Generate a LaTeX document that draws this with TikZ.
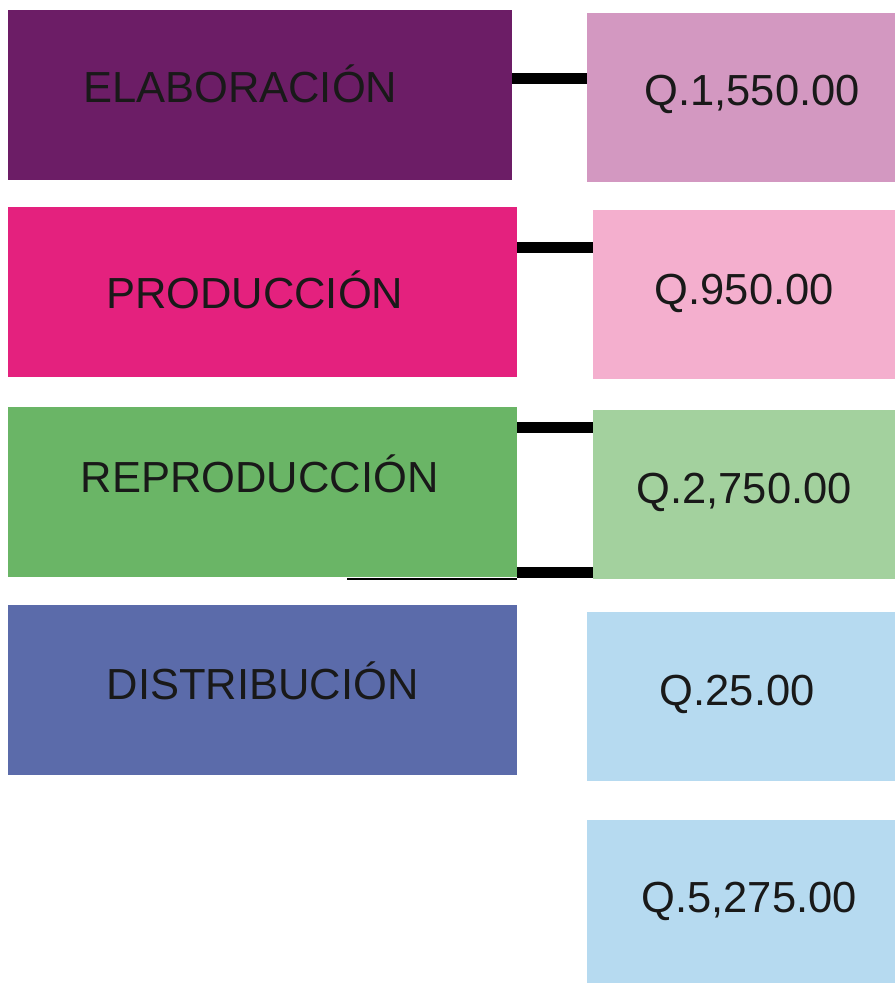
\documentclass[tikz,border=0pt]{standalone}
\usepackage{fontspec}
\setmainfont{Liberation Sans}
\definecolor{c1}{HTML}{6C1D66}
\definecolor{c1r}{HTML}{D398C1}
\definecolor{c2}{HTML}{E4217E}
\definecolor{c2r}{HTML}{F4AFCE}
\definecolor{c3}{HTML}{6AB566}
\definecolor{c3r}{HTML}{A3D19E}
\definecolor{c4}{HTML}{5B6BAA}
\definecolor{c4r}{HTML}{B6DAF0}
\newcommand{\upby}[2]{\raisebox{#1}[\height][\depth]{#2}}
\begin{document}
\begin{tikzpicture}[x=1pt,y=-1pt,
  lbox/.style={rectangle,inner sep=0pt,anchor=north west,minimum width=509pt,minimum height=170pt,text=black!90,font=\fontsize{43.5}{50}\selectfont},
  rbox/.style={rectangle,inner sep=0pt,anchor=north west,minimum width=308pt,minimum height=169pt,text=black!90,font=\fontsize{43.5}{50}\selectfont},
  link/.style={line width=11pt,black}]
\useasboundingbox (0,0) rectangle (895,983);
\fill[white] (0,0) rectangle (895,983);
\node[lbox,fill=c1,minimum width=504pt] (a1) at (8,10) {\upby{11pt}{\hspace*{-40pt}ELABORACIÓN}};
\node[lbox,fill=c2] (a2) at (8,207) {\upby{2pt}{\hspace*{-16pt}PRODUCCIÓN}};
\node[lbox,fill=c3] (a3) at (8,407) {\upby{18pt}{\hspace*{-6pt}REPRODUCCIÓN}};
\node[lbox,fill=c4] (a4) at (8,605) {\upby{9pt}{DISTRIBUCIÓN}};
\node[rbox,fill=c1r] (b1) at (587,13) {\upby{3pt}{\hspace*{22pt}Q.1,550.00}};
\node[rbox,fill=c2r,minimum width=302pt] (b2) at (593,210) {\upby{1.5pt}{Q.950.00}};
\node[rbox,fill=c3r,minimum width=302pt] (b3) at (593,410) {\upby{2pt}{Q.2,750.00}};
\node[rbox,fill=c4r] (b4) at (587,612) {\upby{2pt}{\hspace*{-8pt}Q.25.00}};
\node[rbox,fill=c4r,minimum height=163pt] (b5) at (587,820) {\hspace*{16pt}Q.5,275.00};
\coordinate (y1) at (0,78.5);
\coordinate (y2) at (0,247);
\coordinate (y3) at (0,427.5);
\coordinate (y4) at (0,572.5);
\coordinate (y5) at (347,579);
\draw[link] (a1.east |- y1) -- (b1.west |- y1);
\draw[link] (a2.east |- y2) -- (b2.west |- y2);
\draw[link] (a3.east |- y3) -- (b3.west |- y3);
\draw[link] (a3.east |- y4) -- (b3.west |- y4);
\draw[line width=2pt,black] (y5) -- (a3.east |- y5);
\end{tikzpicture}
\end{document}
